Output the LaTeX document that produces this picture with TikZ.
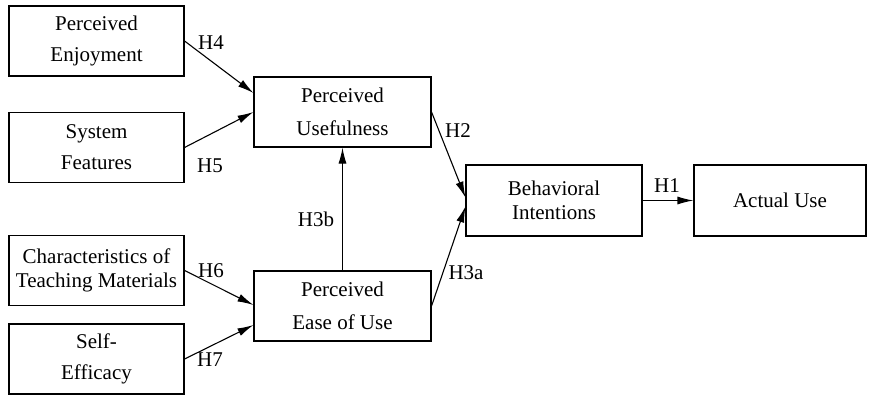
\documentclass[tikz,border=0pt]{standalone}
\usepackage{fontspec}
\setmainfont{Liberation Serif}
\usetikzlibrary{arrows.meta}
\tikzset{box/.style = {draw, rectangle, line width = 1.1pt, inner sep = 0,
    minimum width = 175pt, minimum height = 70pt, align = center,
    font = \rmfamily\fontsize{21}{31}\selectfont},
  tight/.style = {font = \rmfamily\fontsize{21}{24}\selectfont},
  arr/.style = {line width = 1.1pt, -{Latex[length = 16pt, width = 8pt]}},
  lbl/.style = {inner sep = 0, font = \rmfamily\fontsize{21}{24}\selectfont}}

\begin{document}
\begin{tikzpicture}[x = 1pt, y = -1pt]
      \useasboundingbox (0, 0) rectangle (872, 397);
      \node [box] (pe) at (96.5, 41) {Perceived\\Enjoyment};
      \node [box] (sf) at (96.5, 147.5) {System\\Features};
      \node [box, tight] (ctm) at (96.5, 270.5) {Characteristics of\\Teaching Materials};
      \node [box] (se) at (96.5, 359) {Self-\\Efficacy};
      \node [box, minimum width = 177pt, font = \rmfamily\fontsize{21}{33}\selectfont] (pu) at (342.5, 112) {Perceived\\Usefulness};
      \node [box, minimum width = 177pt, font = \rmfamily\fontsize{21}{33}\selectfont] (peou) at (342.5, 306) {Perceived\\Ease of Use};
      \node [box, tight, minimum width = 176pt, minimum height = 71pt] (bi) at (554, 200.5) {Behavioral\\Intentions};
      \node [box, minimum width = 172pt, minimum height = 71pt] (au) at (780, 200.5) {Actual Use};
      \draw [arr] (pe.east) -- ([yshift = 19pt]pu.west);
      \draw [arr] (sf.east) -- (pu.west);
      \draw [arr] (ctm.east) -- ([yshift = 1pt]peou.west);
      \draw [arr] (se.east) -- ([yshift = -19pt]peou.west);
      \draw [arr] (peou.north) -- (pu.south);
      \draw [arr] (pu.east) -- ([yshift = 3pt]bi.west);
      \draw [arr] (peou.east) -- ([yshift = -6pt]bi.west);
      \draw [arr] (bi.east) -- (au.west);
      \node [lbl] (h4) at (211, 43) {H4};
      \node [lbl] (h5) at (210, 166) {H5};
      \node [lbl] (h6) at (211, 271) {H6};
      \node [lbl] (h7) at (210, 360) {H7};
      \node [lbl] (h3b) at (316, 219) {H3b};
      \node [lbl] (h2) at (458, 131) {H2};
      \node [lbl] (h3a) at (466, 273) {H3a};
      \node [lbl] (h1) at (667, 186) {H1};
    \end{tikzpicture}
\end{document}
